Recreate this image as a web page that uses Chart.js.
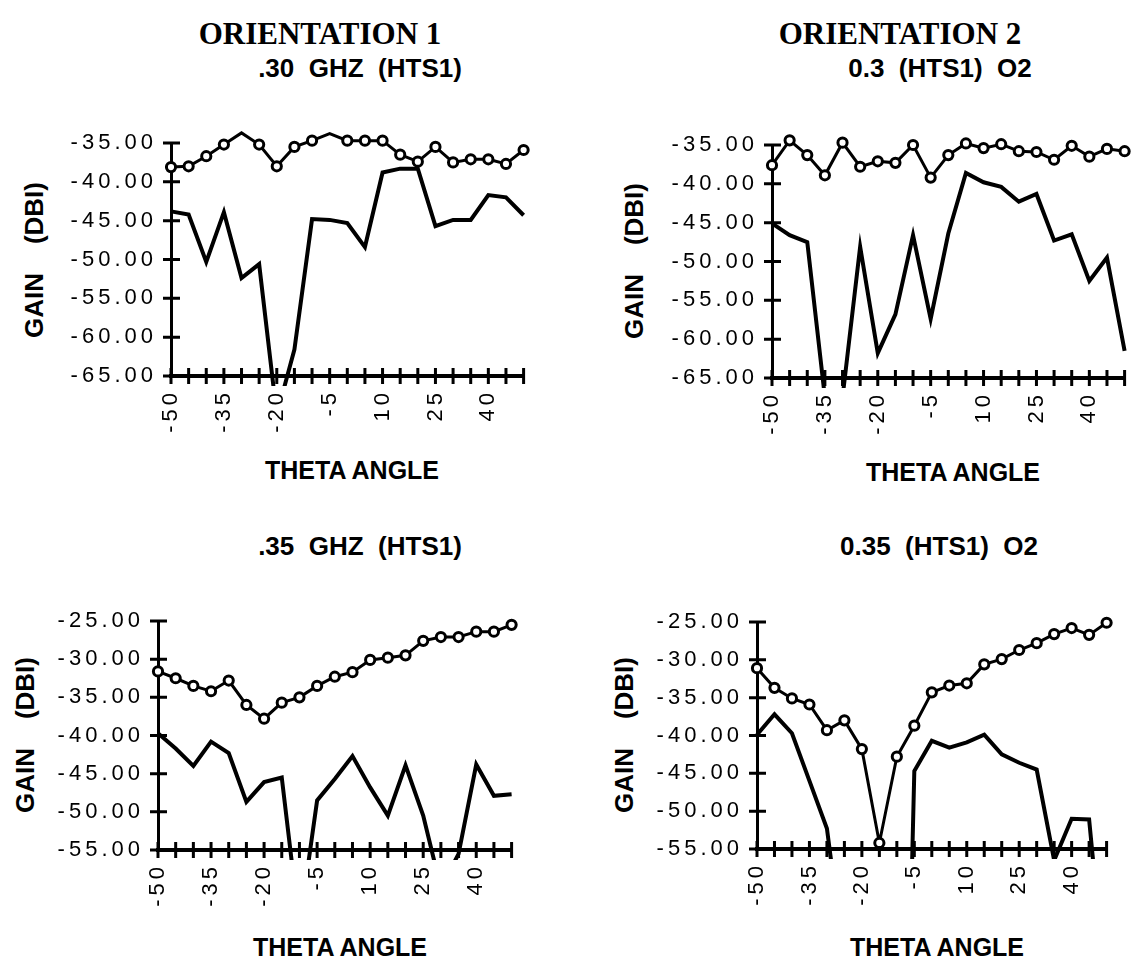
<!DOCTYPE html>
<html lang="en">
<head>
<meta charset="UTF-8">
<title>Gain vs theta angle - HTS1</title>
<script src="https://cdn.jsdelivr.net/npm/chart.js"></script>
<style>
  html, body { margin: 0; padding: 0; background: #fff; overflow: hidden; }
  .page { position: relative; width: 1143px; height: 963px; overflow: hidden;
          font-family: "Liberation Sans", Arial, sans-serif; color: #000; }
  .lbl { position: absolute; transform: translate(-50%, -50%); white-space: pre; font-weight: 700; line-height: 1; }
  .orient { font-family: "Liberation Serif", "Times New Roman", serif; font-size: 31px; }
  .sub { font-size: 26px; }
  .axt { font-size: 25px; }
  .vert { transform: translate(-50%, -50%) rotate(-90deg); font-size: 26px; }
  .box { position: absolute; }
</style>
</head>
<body>
<div class="page">
  <div class="lbl orient" style="left:320px; top:33px">ORIENTATION 1</div>
  <div class="lbl orient" style="left:900px; top:33px">ORIENTATION 2</div>

  <div class="lbl sub" style="left:360px; top:68px">.30  GHZ  (HTS1)</div>
  <div class="lbl sub" style="left:940px; top:68px">0.3  (HTS1)  O2</div>
  <div class="lbl sub" style="left:360px; top:546px">.35  GHZ  (HTS1)</div>
  <div class="lbl sub" style="left:939px; top:546px">0.35  (HTS1)  O2</div>

  <div class="lbl vert" style="left:34px; top:260px">GAIN    (DBI)</div>
  <div class="lbl vert" style="left:634px; top:261px">GAIN    (DBI)</div>
  <div class="lbl vert" style="left:25px; top:735px">GAIN    (DBI)</div>
  <div class="lbl vert" style="left:624px; top:735px">GAIN    (DBI)</div>

  <div class="lbl axt" style="left:352px; top:470px">THETA ANGLE</div>
  <div class="lbl axt" style="left:953px; top:472px">THETA ANGLE</div>
  <div class="lbl axt" style="left:340px; top:947px">THETA ANGLE</div>
  <div class="lbl axt" style="left:937px; top:947px">THETA ANGLE</div>

  <div class="box" style="left:21px; top:113px; width:542px; height:333px"><canvas id="c1"></canvas></div>
  <div class="box" style="left:622px; top:115px; width:542px; height:333px"><canvas id="c2"></canvas></div>
  <div class="box" style="left:8px; top:591px; width:543px; height:329px"><canvas id="c3"></canvas></div>
  <div class="box" style="left:607px; top:592px; width:539px; height:327px"><canvas id="c4"></canvas></div>
</div>

<script>
// theta angle categories (deg)
const theta = ['-50', '-45', '-40', '-35', '-30', '-25', '-20', '-15', '-10', '-5', '0',
               '5', '10', '15', '20', '25', '30', '35', '40', '45', '50'];
const labelEvery = 3;

// y ranges (dBi)
const yTop = [-65, -35];
const yBottom = [-55, -25];

// .30 GHz, orientation 1
const circ30 = [-38.1, -38.0, -36.7, -35.2, -33.7, -35.2, -38.0, -35.5, -34.7, -33.8, -34.7,
                -34.7, -34.7, -36.5, -37.4, -35.5, -37.5, -37.1, -37.1, -37.7, -35.9];
const line30 = [-43.8, -44.2, -50.3, -43.9, -52.4, -50.6, -70.0, -61.6, -44.8, -44.9, -45.3,
                -48.4, -38.8, -38.3, -38.3, -45.7, -44.9, -44.9, -41.7, -42.0, -44.3];

// 0.3, orientation 2
const circ30o2 = [-37.6, -34.4, -36.3, -38.9, -34.7, -37.8, -37.1, -37.3, -35.0, -39.2, -36.3,
                  -34.8, -35.4, -34.9, -35.8, -35.9, -36.9, -35.1, -36.5, -35.5, -35.8];
const line30o2 = [-45.1, -46.6, -47.5, -67.5, -67.5, -48.1, -61.8, -56.8, -46.6, -57.4, -46.4,
                  -38.6, -39.8, -40.4, -42.3, -41.3, -47.3, -46.5, -52.5, -49.5, -61.5];

// .35 GHz, orientation 1
const circ35 = [-31.6, -32.5, -33.5, -34.2, -32.8, -36.0, -37.8, -35.7, -35.0, -33.5, -32.3,
                -31.7, -30.1, -29.8, -29.5, -27.6, -27.1, -27.1, -26.4, -26.4, -25.5];
const line35 = [-39.7, -41.7, -44.0, -40.8, -42.3, -48.7, -46.1, -45.5, -65.0, -48.5, -45.7,
                -42.7, -46.8, -50.5, -43.9, -50.5, -60.0, -55.5, -43.8, -47.9, -47.7];

// 0.35, orientation 2
const circ35o2 = [-31.1, -33.7, -35.1, -35.9, -39.3, -38.0, -41.8, -54.2, -42.8, -38.7, -34.3,
                  -33.4, -33.1, -30.6, -29.9, -28.7, -27.8, -26.6, -25.8, -26.7, -25.1];
const line35o2 = [-39.9, -37.2, -39.7, -46.0, -52.3, -70.0, -85.0, -95.0, -140.0, -44.7, -40.7,
                  -41.6, -40.9, -39.9, -42.5, -43.6, -44.5, -56.5, -51.0, -51.1, -75.0];

// ticks cross the axis lines, like the old plot
const crossTicks = {
  id: 'crossTicks',
  beforeDatasetsDraw(chart) {
    const { ctx, chartArea, scales: { x, y } } = chart;
    ctx.save();
    ctx.strokeStyle = '#000';
    ctx.lineWidth = 3;
    ctx.beginPath();
    x.ticks.forEach((t, i) => {
      const px = x.getPixelForTick(i);
      ctx.moveTo(px, chartArea.bottom - 8);
      ctx.lineTo(px, chartArea.bottom + 8);
    });
    y.ticks.forEach((t, i) => {
      const py = y.getPixelForTick(i);
      ctx.moveTo(chartArea.left - 8, py);
      ctx.lineTo(chartArea.left + 9, py);
    });
    ctx.stroke();
    ctx.restore();
  }
};

// wide tracking on the tick numbers
const spacedTicks = {
  id: 'spacedTicks',
  beforeDraw(chart) { chart.ctx.letterSpacing = '4px'; }
};

const tickFont = { family: 'Liberation Sans', size: 22 };
const lineClip = { left: 8, top: 20, right: 8, bottom: 10 };

function gainChart(id, circ, solid, yRange) {
  return new Chart(document.getElementById(id), {
    type: 'line',
    data: {
      labels: theta,
      datasets: [
        {
          data: circ,
          borderColor: '#000',
          borderWidth: 3,
          pointRadius: 4.6,
          pointBorderWidth: 3,
          pointBackgroundColor: '#fff',
          pointBorderColor: '#000',
          tension: 0,
          clip: lineClip
        },
        {
          data: solid,
          borderColor: '#000',
          borderWidth: 4,
          pointRadius: 0,
          tension: 0,
          clip: lineClip
        }
      ]
    },
    options: {
      responsive: true,
      maintainAspectRatio: false,
      animation: false,
      events: [],
      layout: { padding: { top: 30, right: 30, left: 0, bottom: 0 } },
      plugins: { legend: { display: false }, tooltip: { enabled: false } },
      scales: {
        x: {
          type: 'category',
          offset: false,
          grid: { display: false, drawTicks: false },
          border: { color: '#000', width: 4 },
          ticks: {
            autoSkip: false,
            maxRotation: 90,
            minRotation: 90,
            padding: 13,
            color: '#000',
            font: tickFont,
            callback: (v, i) => (i % labelEvery === 0 ? theta[i] : '')
          },
          afterFit(s) { s.height = 70; }
        },
        y: {
          min: yRange[0],
          max: yRange[1],
          grid: { display: false, drawTicks: false },
          border: { color: '#000', width: 3 },
          ticks: {
            stepSize: 5,
            padding: 14,
            color: '#000',
            font: tickFont,
            callback: v => v.toFixed(2)
          },
          afterFit(s) { s.width = 150; }
        }
      }
    },
    plugins: [crossTicks, spacedTicks]
  });
}

gainChart('c1', circ30, line30, yTop);
gainChart('c2', circ30o2, line30o2, yTop);
gainChart('c3', circ35, line35, yBottom);
gainChart('c4', circ35o2, line35o2, yBottom);
</script>
</body>
</html>
